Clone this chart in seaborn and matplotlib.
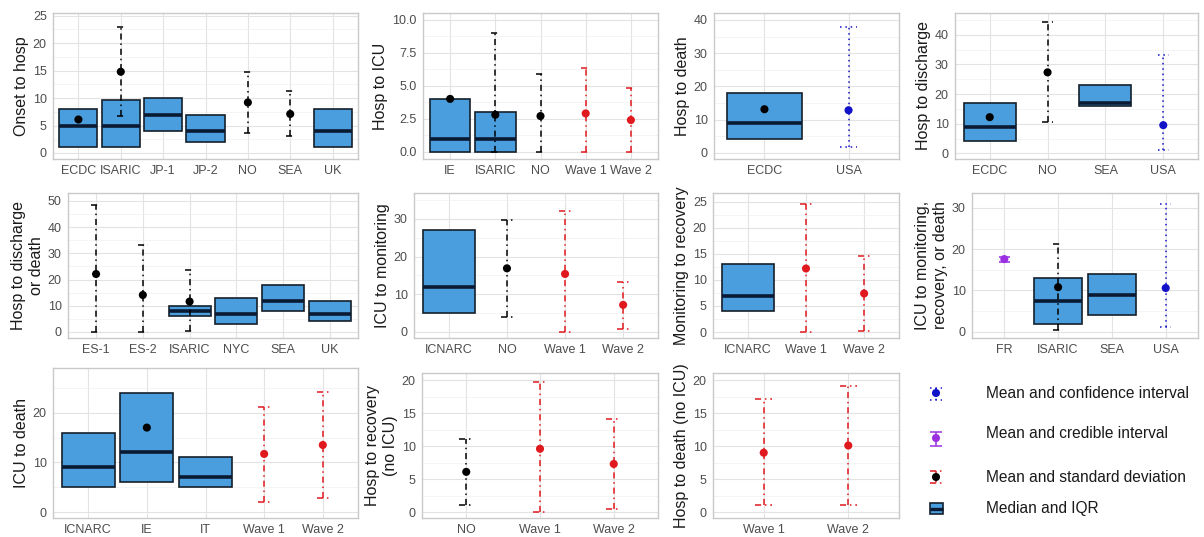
import numpy as np
import pandas as pd
import seaborn as sns
import matplotlib
matplotlib.use("Agg")
import matplotlib.pyplot as plt
from matplotlib.patches import Rectangle

nan = np.nan

# ---------------------------
# Data
# kind: sd = mean +/- SD (black), wave = mean +/- SD (red),
#       ci = mean + confidence interval, cri = mean + credible interval
# ---------------------------

# Onset to hosp
onset_cats = ["ECDC", "ISARIC", "JP-1", "JP-2", "NO", "SEA", "UK"]
onset_box_cats = ["ECDC", "ISARIC", "JP-1", "JP-2", "UK"]
onset_q1 = [1, 1, 4, 2, 1]
onset_med = [5, 5, 7, 4, 4]
onset_q3 = [8, 9.7, 10, 7, 8]
onset_mean_cats = ["ECDC", "ISARIC", "NO", "SEA"]
onset_mean = [6.1, 14.8, 9.2, 7.1]
onset_lo = [nan, 6.7, 3.7, 3.1]
onset_hi = [nan, 22.9, 14.8, 11.2]
onset_kind = ["sd", "sd", "sd", "sd"]

# Hosp to ICU
h_icu_cats = ["IE", "ISARIC", "NO", "Wave 1", "Wave 2"]
h_icu_box_cats = ["IE", "ISARIC"]
h_icu_q1 = [0, 0]
h_icu_med = [1, 1]
h_icu_q3 = [4, 3]
h_icu_mean_cats = ["IE", "ISARIC", "NO", "Wave 1", "Wave 2"]
h_icu_mean = [4.0, 2.8, 2.7, 2.9, 2.4]
h_icu_lo = [nan, 0, 0, 0, 0]
h_icu_hi = [nan, 9.0, 5.9, 6.35, 4.85]
h_icu_kind = ["sd", "sd", "sd", "wave", "wave"]

# Hosp to death
h_death_cats = ["ECDC", "USA"]
h_death_box_cats = ["ECDC"]
h_death_q1 = [4]
h_death_med = [9]
h_death_q3 = [18]
h_death_mean_cats = ["ECDC", "USA"]
h_death_mean = [13.1, 12.8]
h_death_lo = [nan, 1.6]
h_death_hi = [nan, 37.9]
h_death_kind = ["sd", "ci"]

# Hosp to discharge
h_dis_cats = ["ECDC", "NO", "SEA", "USA"]
h_dis_box_cats = ["ECDC", "SEA"]
h_dis_q1 = [4, 16]
h_dis_med = [9, 17]
h_dis_q3 = [17, 23]
h_dis_mean_cats = ["ECDC", "NO", "USA"]
h_dis_mean = [12.2, 27.3, 9.5]
h_dis_lo = [nan, 10.6, 1.0]
h_dis_hi = [nan, 44.1, 33.2]
h_dis_kind = ["sd", "sd", "ci"]

# Hosp to discharge or death
h_dd_cats = ["ES-1", "ES-2", "ISARIC", "NYC", "SEA", "UK"]
h_dd_box_cats = ["ISARIC", "NYC", "SEA", "UK"]
h_dd_q1 = [6, 3, 8, 4]
h_dd_med = [8, 7, 12, 7]
h_dd_q3 = [10, 13, 18, 12]
h_dd_mean_cats = ["ES-1", "ES-2", "ISARIC"]
h_dd_mean = [22.1, 14.1, 11.6]
h_dd_lo = [0, 0, 0.5]
h_dd_hi = [48.3, 33.2, 23.8]
h_dd_kind = ["sd", "sd", "sd"]

# ICU to monitoring
icu_mon_cats = ["ICNARC", "NO", "Wave 1", "Wave 2"]
icu_mon_box_cats = ["ICNARC"]
icu_mon_q1 = [5]
icu_mon_med = [12]
icu_mon_q3 = [27]
icu_mon_mean_cats = ["NO", "Wave 1", "Wave 2"]
icu_mon_mean = [16.9, 15.4, 7.2]
icu_mon_lo = [4.0, 0, 0.9]
icu_mon_hi = [29.8, 32.1, 13.4]
icu_mon_kind = ["sd", "wave", "wave"]

# Monitoring to recovery
mon_rec_cats = ["ICNARC", "Wave 1", "Wave 2"]
mon_rec_box_cats = ["ICNARC"]
mon_rec_q1 = [4]
mon_rec_med = [7]
mon_rec_q3 = [13]
mon_rec_mean_cats = ["Wave 1", "Wave 2"]
mon_rec_mean = [12.2, 7.4]
mon_rec_lo = [0, 0.2]
mon_rec_hi = [24.6, 14.6]
mon_rec_kind = ["wave", "wave"]

# ICU to monitoring, recovery, or death
icu_mrd_cats = ["FR", "ISARIC", "SEA", "USA"]
icu_mrd_box_cats = ["ISARIC", "SEA"]
icu_mrd_q1 = [2, 4]
icu_mrd_med = [7.5, 9]
icu_mrd_q3 = [13, 14]
icu_mrd_mean_cats = ["FR", "ISARIC", "USA"]
icu_mrd_mean = [17.6, 10.8, 10.6]
icu_mrd_lo = [17.0, 0.5, 1.2]
icu_mrd_hi = [18.2, 21.2, 30.9]
icu_mrd_kind = ["cri", "sd", "ci"]

# ICU to death
icu_death_cats = ["ICNARC", "IE", "IT", "Wave 1", "Wave 2"]
icu_death_box_cats = ["ICNARC", "IE", "IT"]
icu_death_q1 = [5, 6, 5]
icu_death_med = [9, 12, 7]
icu_death_q3 = [16, 24, 11]
icu_death_mean_cats = ["IE", "Wave 1", "Wave 2"]
icu_death_mean = [17.0, 11.7, 13.5]
icu_death_lo = [nan, 2.0, 2.8]
icu_death_hi = [nan, 21.1, 24.2]
icu_death_kind = ["sd", "wave", "wave"]

# Hosp to recovery (no ICU)
h_rec_cats = ["NO", "Wave 1", "Wave 2"]
h_rec_mean_cats = ["NO", "Wave 1", "Wave 2"]
h_rec_mean = [6.1, 9.6, 7.3]
h_rec_lo = [1.1, 0, 0.5]
h_rec_hi = [11.1, 19.7, 14.1]
h_rec_kind = ["sd", "wave", "wave"]

# Hosp to death (no ICU)
h_dn_cats = ["Wave 1", "Wave 2"]
h_dn_mean_cats = ["Wave 1", "Wave 2"]
h_dn_mean = [9.0, 10.1]
h_dn_lo = [1.1, 1.1]
h_dn_hi = [17.1, 19.1]
h_dn_kind = ["wave", "wave"]

legend_labels = ["Mean and confidence interval", "Mean and credible interval",
                 "Mean and standard deviation", "Median and IQR"]

# ---------------------------
# Styles
# ---------------------------
BOX_FILL = "#4a9ede"
BOX_EDGE = "#15202b"
MEDIAN = "#0b1a33"
KIND_COLOR = {"sd": "#000000", "wave": "#e0191f", "ci": "#1212c8", "cri": "#9b30e0"}
DOTDASH = (0, (4, 2.5, 1, 2.5))
KIND_STYLE = {"sd": DOTDASH, "wave": DOTDASH, "ci": (0, (1, 2.5)), "cri": "solid"}
EB_LW = 1.1
CAP = 0.1

sns.set_style("white")
plt.rcParams["font.family"] = ["Liberation Sans", "DejaVu Sans"]

W, H = 1204, 537
fig = plt.figure(figsize=(W / 100, H / 100), dpi=100)


def add_ax(l, t, r, b):
    return fig.add_axes([l / W, 1 - b / H, (r - l) / W, (b - t) / H])


def panel(ax, cats, ylabel, ylim, yticks, box=None, means=None, fmt="{:g}"):
    if box is not None:
        box_cats, q1, med, q3 = box
        rows = []
        for c, a, m, b in zip(box_cats, q1, med, q3):
            # five values whose quartiles are exactly q1 / median / q3
            rows += [(c, a), (c, a), (c, m), (c, b), (c, b)]
        df = pd.DataFrame(rows, columns=["cat", "val"])
        sns.boxplot(data=df, x="cat", y="val", order=cats, ax=ax, width=0.9,
                    whis=0, showfliers=False, showcaps=False, color=BOX_FILL,
                    linecolor=BOX_EDGE, linewidth=1.2, saturation=1,
                    medianprops=dict(color=MEDIAN, linewidth=2.6))

    if means is not None:
        m_cats, mean, lo, hi, kind = means
        pos = [cats.index(c) for c in m_cats]
        for p, l, h, k in zip(pos, lo, hi, kind):
            if np.isnan(l):
                continue
            ax.vlines(p, l, h, colors=KIND_COLOR[k], linestyles=[KIND_STYLE[k]],
                      linewidth=EB_LW, zorder=3)
            ax.hlines([l, h], p - CAP, p + CAP, colors=KIND_COLOR[k],
                      linestyles=[KIND_STYLE[k]], linewidth=EB_LW, zorder=3)
        sns.scatterplot(x=pos, y=mean, hue=kind, palette=KIND_COLOR, s=34,
                        linewidth=0, legend=False, ax=ax, zorder=4)

    ax.set_xlim(-0.6, len(cats) - 0.4)
    ax.set_xticks(range(len(cats)))
    ax.set_xticklabels(cats)
    ax.set_ylim(*ylim)
    ax.set_yticks(yticks)
    ax.set_yticklabels([fmt.format(t) for t in yticks])
    step = yticks[1] - yticks[0]
    minor = np.arange(yticks[0] - step / 2, yticks[-1] + step, step)
    ax.set_yticks([v for v in minor if ylim[0] < v < ylim[1]], minor=True)

    ax.set_axisbelow(True)
    ax.grid(which="major", color="#e3e3e3", linewidth=0.8)
    ax.grid(which="minor", axis="y", color="#f0f0f0", linewidth=0.5)
    ax.tick_params(which="minor", length=0)
    ax.tick_params(which="major", length=2.5, width=0.8, color="#b3b3b3",
                   labelcolor="#4d4d4d", labelsize=9, pad=2)
    for s in ax.spines.values():
        s.set_visible(True)
        s.set_color("#c9c9c9")
        s.set_linewidth(1.0)
    ax.set_xlabel("")
    ax.set_ylabel(ylabel, fontsize=11.5, color="#1a1a1a", labelpad=3,
                  multialignment="center")


# ---------------------------
# Row 1
# ---------------------------
panel(add_ax(53, 13, 358, 159), onset_cats, "Onset to hosp", (-1.1, 25.5),
      [0, 5, 10, 15, 20, 25],
      box=(onset_box_cats, onset_q1, onset_med, onset_q3),
      means=(onset_mean_cats, onset_mean, onset_lo, onset_hi, onset_kind))

panel(add_ax(423, 13, 658, 159), h_icu_cats, "Hosp to ICU", (-0.55, 10.5),
      [0, 2.5, 5, 7.5, 10],
      box=(h_icu_box_cats, h_icu_q1, h_icu_med, h_icu_q3),
      means=(h_icu_mean_cats, h_icu_mean, h_icu_lo, h_icu_hi, h_icu_kind),
      fmt="{:.1f}")

panel(add_ax(714, 13, 899, 159), h_death_cats, "Hosp to death", (-1.9, 42.1),
      [0, 10, 20, 30, 40],
      box=(h_death_box_cats, h_death_q1, h_death_med, h_death_q3),
      means=(h_death_mean_cats, h_death_mean, h_death_lo, h_death_hi, h_death_kind))

panel(add_ax(955, 13, 1198, 159), h_dis_cats, "Hosp to discharge", (-1.9, 47.3),
      [0, 10, 20, 30, 40],
      box=(h_dis_box_cats, h_dis_q1, h_dis_med, h_dis_q3),
      means=(h_dis_mean_cats, h_dis_mean, h_dis_lo, h_dis_hi, h_dis_kind))

# ---------------------------
# Row 2
# ---------------------------
panel(add_ax(68, 193, 358, 338), h_dd_cats, "Hosp to discharge\nor death",
      (-2.3, 53), [0, 10, 20, 30, 40, 50],
      box=(h_dd_box_cats, h_dd_q1, h_dd_med, h_dd_q3),
      means=(h_dd_mean_cats, h_dd_mean, h_dd_lo, h_dd_hi, h_dd_kind))

panel(add_ax(414, 193, 658, 338), icu_mon_cats, "ICU to monitoring",
      (-1.6, 36.9), [0, 10, 20, 30],
      box=(icu_mon_box_cats, icu_mon_q1, icu_mon_med, icu_mon_q3),
      means=(icu_mon_mean_cats, icu_mon_mean, icu_mon_lo, icu_mon_hi, icu_mon_kind))

panel(add_ax(713, 193, 899, 338), mon_rec_cats, "Monitoring to recovery",
      (-1.15, 26.7), [0, 5, 10, 15, 20, 25],
      box=(mon_rec_box_cats, mon_rec_q1, mon_rec_med, mon_rec_q3),
      means=(mon_rec_mean_cats, mon_rec_mean, mon_rec_lo, mon_rec_hi, mon_rec_kind))

panel(add_ax(972, 193, 1198, 338), icu_mrd_cats,
      "ICU to monitoring,\nrecovery, or death", (-1.5, 33.6), [0, 10, 20, 30],
      box=(icu_mrd_box_cats, icu_mrd_q1, icu_mrd_med, icu_mrd_q3),
      means=(icu_mrd_mean_cats, icu_mrd_mean, icu_mrd_lo, icu_mrd_hi, icu_mrd_kind))

# ---------------------------
# Row 3
# ---------------------------
panel(add_ax(53, 368, 358, 518), icu_death_cats, "ICU to death", (-1.2, 29),
      [0, 10, 20],
      box=(icu_death_box_cats, icu_death_q1, icu_death_med, icu_death_q3),
      means=(icu_death_mean_cats, icu_death_mean, icu_death_lo, icu_death_hi,
             icu_death_kind))

panel(add_ax(422, 373, 658, 518), h_rec_cats, "Hosp to recovery\n(no ICU)",
      (-0.9, 21.1), [0, 5, 10, 15, 20],
      means=(h_rec_mean_cats, h_rec_mean, h_rec_lo, h_rec_hi, h_rec_kind))

panel(add_ax(713, 373, 899, 518), h_dn_cats, "Hosp to death (no ICU)",
      (-0.9, 21.1), [0, 5, 10, 15, 20],
      means=(h_dn_mean_cats, h_dn_mean, h_dn_lo, h_dn_hi, h_dn_kind))

# ---------------------------
# Legend (keys drawn by hand in pixel space)
# ---------------------------
lax = add_ax(905, 373, 1204, 537)
lax.set_xlim(905, 1204)
lax.set_ylim(537, 373)
lax.axis("off")

kx = 936
for k, (ylo, yhi, ydot) in zip(["ci", "cri", "wave"],
                               [(388, 400, 393), (432, 446, 438), (471, 483, 477)]):
    lax.vlines(kx, ylo, yhi, colors=KIND_COLOR[k], linestyles=[KIND_STYLE[k]],
               linewidth=EB_LW)
    lax.hlines([ylo, yhi], kx - 6, kx + 6, colors=KIND_COLOR[k],
               linestyles=[KIND_STYLE[k]], linewidth=EB_LW)
dot_col = [KIND_COLOR["ci"], KIND_COLOR["cri"], KIND_COLOR["sd"]]
lax.scatter([kx, kx, kx], [393, 438, 477], s=34, c=dot_col, linewidths=0, zorder=4)
lax.add_patch(Rectangle((kx - 6.5, 503), 13, 11, facecolor=BOX_FILL,
                        edgecolor=BOX_EDGE, linewidth=1.2))
lax.hlines(508.5, kx - 6.5, kx + 6.5, colors=MEDIAN, linewidth=2.4)

for lab, y in zip(legend_labels, [393, 434, 478, 508]):
    lax.text(986, y, lab, ha="left", va="center", fontsize=11.2, color="#1a1a1a")

fig.savefig("out.png", dpi=100)
